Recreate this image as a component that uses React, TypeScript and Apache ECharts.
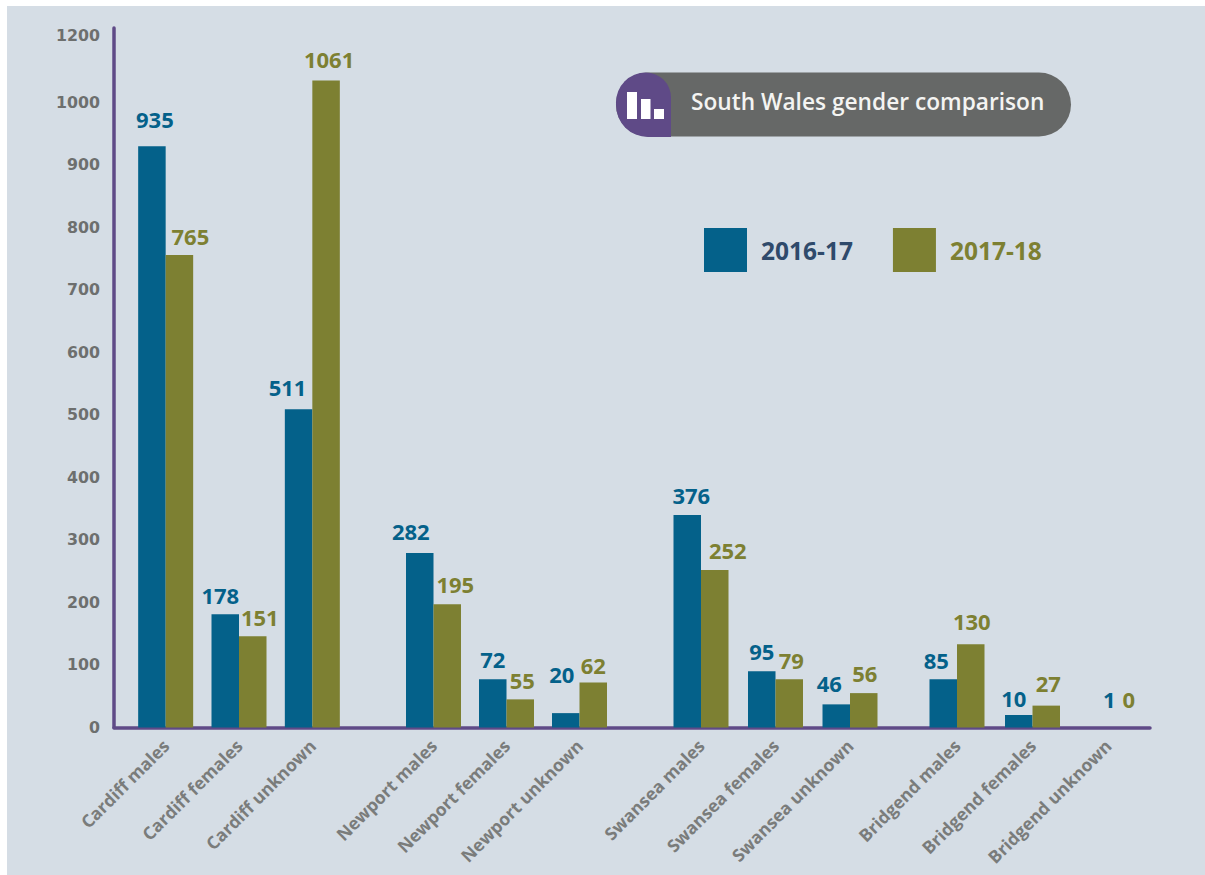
import React, { useEffect, useRef } from "react";
import * as echarts from "echarts";

const regions = ["Cardiff", "Newport", "Swansea", "Bridgend"];
const genders = ["males", "females", "unknown"];

// Bar heights as drawn in the picture (read against the axis)
const bars2016 = [[930, 181, 509], [279, 77, 23], [340, 90, 37], [77, 20, 0]];
const bars2017 = [[756, 146, 1035], [197, 45, 72], [252, 77, 55], [133, 35, 0]];

// Values as printed above the bars
const printed2016 = [[935, 178, 511], [282, 72, 20], [376, 95, 46], [85, 10, 1]];
const printed2017 = [[765, 151, 1061], [195, 55, 62], [252, 79, 56], [130, 27, 0]];

const yTickValues = [0, 100, 200, 300, 400, 500, 600, 700, 800, 900, 1000, 1107];
const yTickLabels = ["0", "100", "200", "300", "400", "500", "600", "700", "800", "900", "1000", "1200"];
const yMax = 1119;

const seriesNames = ["2016-17", "2017-18"];
const title = "South Wales gender comparison";

// Label nudges [dx, gap between bar top and label centre], one per printed value
const nudge2016 = [
  [[3, 25], [-5, 17], [-11, 20]],
  [[-9, 20], [0, 18], [-4, 37]],
  [[4, 18], [0, 18], [-7, 19]],
  [[-7, 17], [-5, 15], [15, 27]],
];
const nudge2017 = [
  [[11, 17], [7, 17], [3, 20]],
  [[8, 18], [2, 17], [0, 15]],
  [[13, 18], [2, 17], [1, 18]],
  [[1, 21], [2, 21], [7, 27]],
];

// Each region's band along the x axis
const regionBands = [
  { left: 129, width: 220 },
  { left: 397, width: 219 },
  { left: 663.75, width: 223.5 },
  { left: 919.25, width: 226.5 },
];

const BLUE = "#04618a";
const OLIVE = "#7d8032";
const PURPLE = "#5f4a87";
const GREY = "#666867";
const BG = "#d5dde5";
const FONT = "'Open Sans', sans-serif";
const TOP = 28;
const BOTTOM = 147.5;

function makeSeries(name, r, heights, printed, nudges, color) {
  return {
    type: "bar",
    name,
    xAxisIndex: r + 1,
    yAxisIndex: r + 1,
    barWidth: 27.5,
    barGap: 0,
    itemStyle: { color },
    data: heights[r].map((v, i) => ({
      value: v,
      label: {
        show: true,
        position: "top",
        distance: 0,
        offset: [nudges[r][i][0], 9 - nudges[r][i][1]],
        formatter: String(printed[r][i]),
        color,
        fontFamily: FONT,
        fontWeight: 700,
        fontSize: 22,
        lineHeight: 22,
      },
    })),
  };
}

export default function App() {
  const ref = useRef<HTMLDivElement>(null);
  useEffect(() => {
    const chart = echarts.init(ref.current, null, { renderer: "svg" });
    const grids: any[] = [{ left: 114, right: 55, top: TOP, bottom: BOTTOM }];
    const xAxes: any[] = [
      {
        gridIndex: 0,
        type: "value",
        min: 0,
        max: 1,
        axisLine: { show: true, lineStyle: { color: PURPLE, width: 3.5 } },
        axisTick: { show: false },
        axisLabel: { show: false },
        splitLine: { show: false },
      },
    ];
    const yAxes: any[] = [
      {
        gridIndex: 0,
        type: "value",
        min: 0,
        max: yMax,
        axisLine: { show: true, lineStyle: { color: PURPLE, width: 3.5 } },
        axisTick: { show: false },
        splitLine: { show: false },
        axisLabel: {
          customValues: yTickValues,
          margin: 14,
          color: "#6d6f6e",
          fontFamily: "'DejaVu Sans', sans-serif",
          fontWeight: 700,
          fontSize: 15.8,
          formatter: (v: number) => yTickLabels[yTickValues.indexOf(v)],
        },
      },
    ];
    const series: any[] = [];
    regions.forEach((region, r) => {
      grids.push({ left: regionBands[r].left, width: regionBands[r].width, top: TOP, bottom: BOTTOM });
      xAxes.push({
        gridIndex: r + 1,
        type: "category",
        data: genders.map((g) => `${region} ${g}`),
        axisLine: { show: false },
        axisTick: { show: false },
        axisLabel: {
          interval: 0,
          rotate: 45,
          margin: 15,
          color: "#7a7c7b",
          fontFamily: FONT,
          fontWeight: 700,
          fontSize: 17.5,
        },
      });
      yAxes.push({ gridIndex: r + 1, type: "value", min: 0, max: yMax, show: false });
      series.push(makeSeries(seriesNames[0], r, bars2016, printed2016, nudge2016, BLUE));
      series.push(makeSeries(seriesNames[1], r, bars2017, printed2017, nudge2017, OLIVE));
    });

    chart.setOption({
      animation: false,
      backgroundColor: "transparent",
      grid: grids,
      xAxis: xAxes,
      yAxis: yAxes,
      series,
      legend: {
        left: 704,
        top: 228,
        padding: 0,
        icon: "rect",
        itemWidth: 43,
        itemHeight: 44,
        itemGap: 40,
        selectedMode: false,
        textStyle: { fontFamily: FONT, fontWeight: 700, fontSize: 24.5, padding: [0, 0, 0, 9] },
        data: [
          { name: seriesNames[0], itemStyle: { color: BLUE }, textStyle: { color: "#2f4a6b" } },
          { name: seriesNames[1], itemStyle: { color: OLIVE }, textStyle: { color: OLIVE } },
        ],
      },
      graphic: [
        { type: "rect", z: -10, shape: { x: 7, y: 6, width: 1198, height: 869 }, style: { fill: BG } },
        { type: "rect", shape: { x: 616, y: 72.5, width: 455, height: 64, r: 32 }, style: { fill: GREY } },
        { type: "rect", shape: { x: 616, y: 72.5, width: 55, height: 64.5, r: [32, 27, 0, 32] }, style: { fill: PURPLE } },
        { type: "rect", shape: { x: 627, y: 92, width: 10, height: 27 }, style: { fill: "#fff" } },
        { type: "rect", shape: { x: 641, y: 99, width: 9.5, height: 20 }, style: { fill: "#fff" } },
        { type: "rect", shape: { x: 654, y: 109, width: 10, height: 10 }, style: { fill: "#fff" } },
        {
          type: "text",
          x: 691,
          y: 101,
          style: {
            text: title,
            fill: "#f4f4f2",
            font: `600 22.7px ${FONT}`,
            textVerticalAlign: "middle",
            verticalAlign: "middle",
          },
        },
      ],
    });
    return () => chart.dispose();
  }, []);
  return (
    <div style={{ position: "fixed", left: 0, top: 0, width: 1205, height: 875, background: "#fff" }}>
      <div ref={ref} style={{ width: 1205, height: 875 }} />
    </div>
  );
}
